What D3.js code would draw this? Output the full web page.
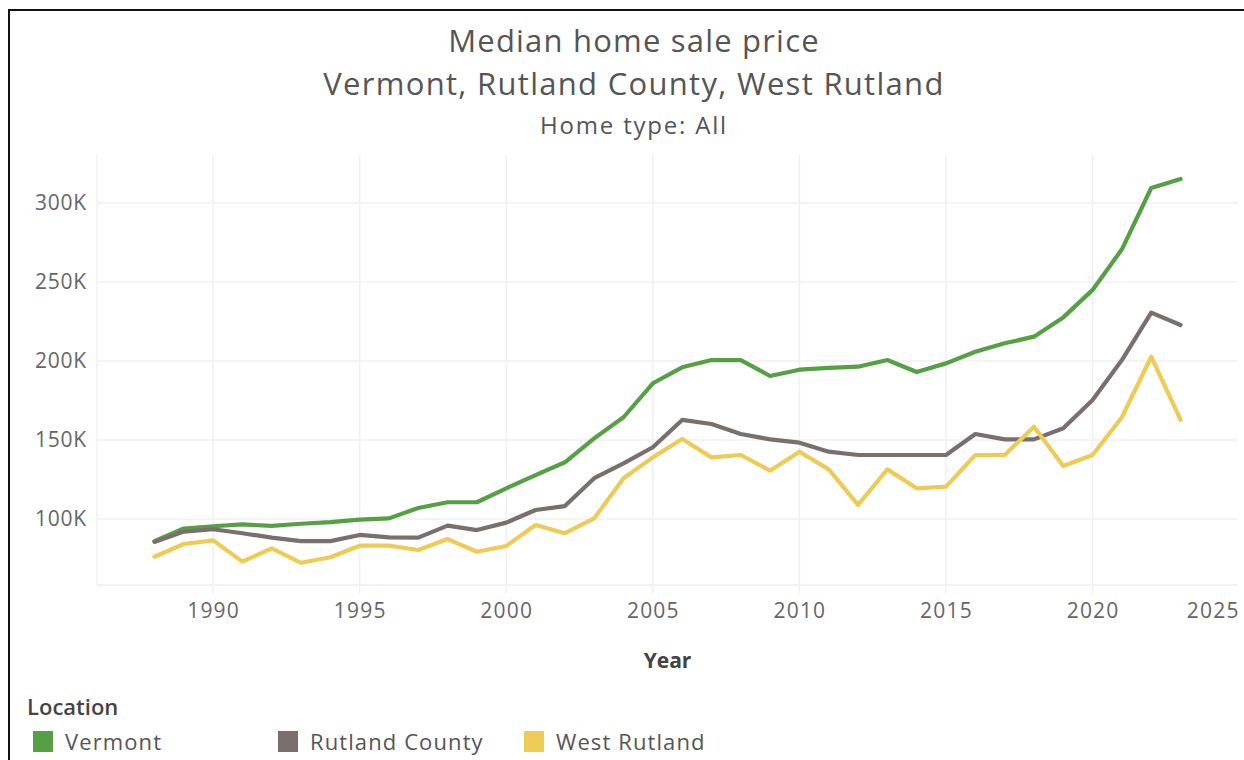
<!DOCTYPE html>
<html>
<head>
<meta charset="utf-8">
<script src="https://cdn.jsdelivr.net/npm/d3@7"></script>
<style>
  html, body { margin: 0; padding: 0; background: #fff; }
  svg { display: block; }
  text { font-family: "Open Sans", "Noto Sans", sans-serif; }
</style>
</head>
<body>
<svg id="chart" width="1244" height="760"></svg>
<script>
const years = d3.range(1988, 2024);
const vermont = [86, 94, 95.4, 96.6, 95.6, 97, 98, 99.6, 100.4, 107, 110.6, 110.6, 119.4, 127.8, 135.9, 151, 164.4, 185.9, 196, 200.6, 200.6, 190.5, 194.5, 195.6, 196.4, 200.6, 193, 198.5, 205.9, 211.2, 215.4, 227.6, 245, 270.7, 309.5, 315.2];
const rutlandCounty = [85.5, 92, 93.5, 91, 88.2, 86, 86, 89.9, 88.4, 88.2, 95.8, 93, 97.7, 105.7, 108.2, 125.8, 135.2, 145.4, 162.7, 160.1, 153.8, 150.4, 148.3, 142.6, 140.5, 140.5, 140.5, 140.5, 153.8, 150.4, 150.4, 157.4, 175.3, 200.6, 230.6, 222.8];
const westRutland = [76.1, 84.2, 86.5, 73, 81.4, 72.3, 75.8, 83.1, 83.1, 80.4, 87.3, 79.3, 82.9, 96.2, 91, 100.4, 125.8, 139, 150.6, 139, 140.5, 130.6, 142.6, 131.4, 108.9, 131.4, 119.4, 120.5, 140.5, 140.5, 158.4, 133.5, 140.5, 164.4, 202.7, 162.7];
const seriesNames = ["Vermont", "Rutland County", "West Rutland"];
const seriesColors = ["#55a045", "#79706e", "#eecb55"];
const xTicks = [1990, 1995, 2000, 2005, 2010, 2015, 2020, 2025];
const yTicks = [100, 150, 200, 250, 300];
const titleLines = ["Median home sale price", "Vermont, Rutland County, West Rutland"];
const subtitle = "Home type: All";

const seriesValues = [vermont, rutlandCounty, westRutland];
const series = seriesNames.map((name, i) => ({
  name, color: seriesColors[i],
  values: years.map((yr, j) => ({ year: yr, value: seriesValues[i][j] }))
}));

const svg = d3.select("#chart");
const plot = { left: 97, right: 1238, top: 155, bottom: 585 };

const x = d3.scaleLinear().domain([1986.04, 2024.96]).range([plot.left, plot.right]);
const y = d3.scaleLinear().domain([100, 300]).range([519, 203]);

// frame (left and top border)
svg.append("path").attr("d", "M9,760 V10 H1244").attr("fill", "none").attr("stroke", "#111").attr("stroke-width", 2);

// titles
svg.append("text").attr("x", 634).attr("y", 52).attr("text-anchor", "middle")
  .attr("font-size", 31).attr("letter-spacing", 1.2).attr("fill", "#555").text(titleLines[0]);
svg.append("text").attr("x", 634).attr("y", 95).attr("text-anchor", "middle")
  .attr("font-size", 31).attr("letter-spacing", 1.3).attr("fill", "#555").text(titleLines[1]);
svg.append("text").attr("x", 634).attr("y", 134).attr("text-anchor", "middle")
  .attr("font-size", 24).attr("letter-spacing", 1.8).attr("fill", "#555").text(subtitle);

// gridlines
const g = svg.append("g");
g.selectAll("line.hg").data(yTicks).join("line")
  .attr("x1", plot.left).attr("x2", plot.right)
  .attr("y1", d => y(d)).attr("y2", d => y(d))
  .attr("stroke", "#f0f0f0").attr("stroke-width", 1.5);
g.append("line").attr("x1", plot.left).attr("x2", plot.right)
  .attr("y1", plot.bottom).attr("y2", plot.bottom).attr("stroke", "#eeeeee").attr("stroke-width", 1.5);
g.append("line").attr("x1", plot.left).attr("x2", plot.left)
  .attr("y1", plot.top).attr("y2", plot.bottom).attr("stroke", "#f2f2f2").attr("stroke-width", 1.5);
g.selectAll("line.vg").data(xTicks.filter(d => d < 2025)).join("line")
  .attr("x1", d => x(d)).attr("x2", d => x(d))
  .attr("y1", plot.top).attr("y2", plot.bottom + 8)
  .attr("stroke", "#f0f0f0").attr("stroke-width", 1.5);

// y axis labels
const yAxis = d3.axisLeft(y).tickValues(yTicks).tickSize(0).tickPadding(0)
  .tickFormat(d => d + "K");
const ya = svg.append("g").attr("transform", "translate(87,0)").call(yAxis);
ya.select(".domain").remove();
ya.selectAll("text").attr("font-size", 21).attr("letter-spacing", 0.8).attr("fill", "#666")
  .attr("font-family", "'Open Sans', sans-serif");

// x axis labels
const xAxis = d3.axisBottom(x).tickValues(xTicks).tickSize(0).tickPadding(0)
  .tickFormat(d3.format("d"));
const xa = svg.append("g").attr("transform", "translate(0,603)").call(xAxis);
xa.select(".domain").remove();
xa.selectAll("text").attr("font-size", 21).attr("letter-spacing", 1.2).attr("fill", "#666")
  .attr("font-family", "'Open Sans', sans-serif")
  .filter(d => d === 2025).attr("text-anchor", "end").attr("dx", "0");

svg.append("text").attr("x", (plot.left + plot.right) / 2).attr("y", 668)
  .attr("text-anchor", "middle").attr("font-size", 21).attr("font-weight", "bold")
  .attr("fill", "#444").text("Year");

// lines
const line = d3.line().x(d => x(d.year)).y(d => y(d.value));
svg.append("g").selectAll("path").data(series).join("path")
  .attr("d", d => line(d.values))
  .attr("fill", "none").attr("stroke", d => d.color)
  .attr("stroke-width", 4.2).attr("stroke-linejoin", "round").attr("stroke-linecap", "round");

// legend
svg.append("text").attr("x", 27).attr("y", 715).attr("font-size", 22)
  .attr("font-weight", 600).attr("fill", "#444").text("Location");
const legendX = [33, 278, 524];
const lg = svg.append("g").selectAll("g").data(series).join("g")
  .attr("transform", (d, i) => `translate(${legendX[i]},731)`);
lg.append("rect").attr("width", 20).attr("height", 21).attr("fill", d => d.color);
lg.append("text").attr("x", 32).attr("y", 19).attr("font-size", 22).attr("letter-spacing", 1.1)
  .attr("fill", "#555").text(d => d.name);
</script>
</body>
</html>
